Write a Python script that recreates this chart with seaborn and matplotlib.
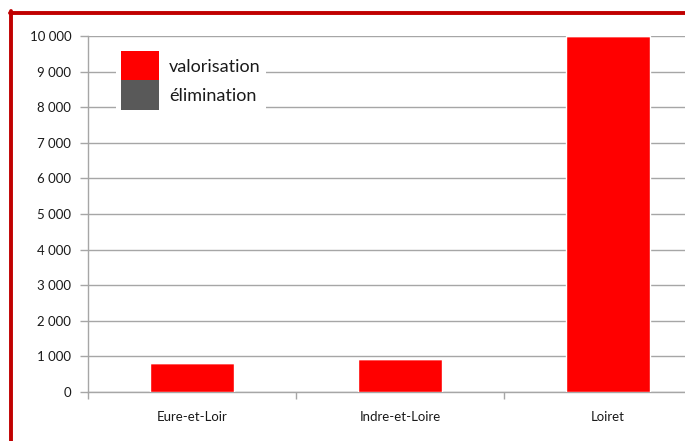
import matplotlib
matplotlib.use("Agg")
import matplotlib.pyplot as plt
import seaborn as sns
import pandas as pd
from matplotlib.patches import Patch
from matplotlib.lines import Line2D
from matplotlib.ticker import FuncFormatter

departements = ["Eure-et-Loir", "Indre-et-Loire", "Loiret"]
valorisation = [810, 920, 10000]
elimination = [0, 0, 0]
series_labels = ["valorisation", "élimination"]
yticks = list(range(0, 10001, 1000))

sns.set_theme(style="white")
plt.rcParams['font.family'] = ['Lato', 'DejaVu Sans']

df = pd.DataFrame({"dep": departements, "val": valorisation, "elim": elimination})

W, H = 685, 441
fig = plt.figure(figsize=(W / 100, H / 100), dpi=100)
ax = fig.add_axes([88 / W, (H - 392) / H, (712 - 88) / W, (392 - 36) / H])

red = "#FF0000"
grey = "#595959"
sns.barplot(data=df, x="dep", y="val", color=red, width=0.4, ax=ax, saturation=1, zorder=3)
sns.barplot(data=df, x="dep", y="elim", color=grey, width=0.4, ax=ax, saturation=1,
            bottom=df["val"], zorder=3)

ax.set_xlim(-0.5, 2.5)
ax.set_ylim(0, 10000)
ax.set_yticks(yticks)
ax.yaxis.set_major_formatter(FuncFormatter(lambda v, p: f"{int(v):,}".replace(",", " ")))
ax.grid(axis="y", color="#A6A6A6", linewidth=1.0, zorder=0)
ax.set_axisbelow(True)

# x ticks: boundaries as major ticks, labels at centers
ax.set_xticks([-0.5, 0.5, 1.5, 2.5])
ax.set_xticklabels([])
ax.set_xticks([0, 1, 2], minor=True)
ax.set_xticklabels(departements, minor=True)
ax.tick_params(axis="x", which="major", direction="out", length=5, width=1, color="#A6A6A6", bottom=True)
ax.tick_params(axis="x", which="minor", length=0, pad=14, labelsize=9.5, labelcolor="#1a1a1a")
ax.tick_params(axis="y", direction="out", length=6, width=1, color="#A6A6A6", left=True,
               labelsize=9.5, labelcolor="#1a1a1a", pad=6)
ax.set_xlabel("")
ax.set_ylabel("")

for s in ["top", "right"]:
    ax.spines[s].set_visible(False)
for s in ["left", "bottom"]:
    ax.spines[s].set_color("#A6A6A6")
    ax.spines[s].set_linewidth(1.0)

handles = [Patch(facecolor=red, edgecolor="none"), Patch(facecolor=grey, edgecolor="none")]
leg = ax.legend(handles, series_labels, loc="upper left", bbox_to_anchor=((116 - 88) / (712 - 88), 1 - 10 / 356),
                frameon=True, fontsize=13, handlelength=2.1, handleheight=2.1, labelspacing=0,
                handletextpad=0.55, borderpad=0.3, borderaxespad=0, fancybox=False)
leg.get_frame().set_edgecolor("none")
leg.get_frame().set_facecolor("white")
leg.get_frame().set_alpha(1)
for t in leg.get_texts():
    t.set_color("#1a1a1a")

# red border lines
fig.add_artist(Line2D([11 / W, 11 / W], [0, (H - 11) / H], color="#C00000", linewidth=2.8))
fig.add_artist(Line2D([10 / W, 1], [(H - 12.5) / H, (H - 12.5) / H], color="#C00000", linewidth=2.8))

fig.savefig("out.png", dpi=100)
